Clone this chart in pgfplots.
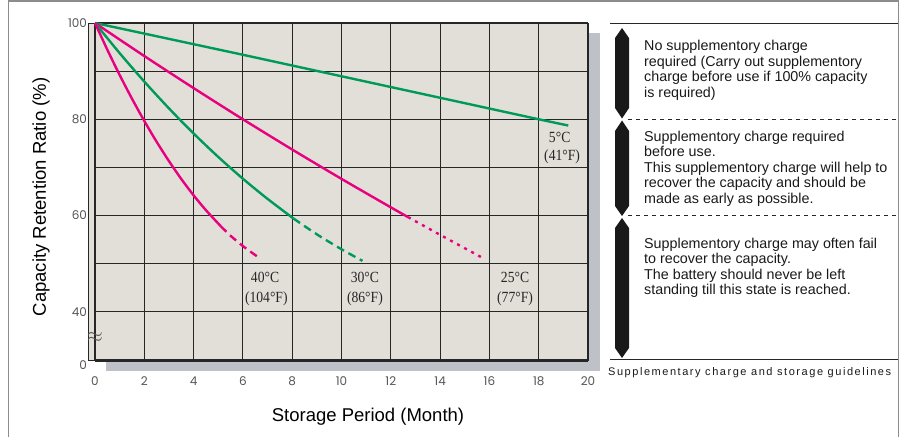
\documentclass[border=0pt]{standalone}
\usepackage{pgfplots}
\pgfplotsset{compat=1.18}
\usepackage{fontspec}
\setmainfont{Liberation Sans}
\newfontfamily\tickfont{Poppins}
\newfontfamily\labfont{Liberation Serif}
\newfontfamily\capfont{Liberation Sans}[LetterSpace=14]
\usetikzlibrary{backgrounds}

\definecolor{gridc}{RGB}{38,38,38}
\definecolor{plotbg}{RGB}{226,223,217}
\definecolor{shadowc}{RGB}{190,194,200}
\definecolor{tickgray}{RGB}{85,85,85}
\definecolor{framec}{RGB}{140,140,140}
\definecolor{cgreen}{RGB}{0,154,88}
\definecolor{cmag}{RGB}{232,0,125}

\begin{document}
\begin{tikzpicture}
\begin{scope}[x=1bp,y=-1bp]
  \path[use as bounding box] (0,0) rectangle (905,438);
\end{scope}

\begin{axis}[
    at={(88bp,-360bp)}, anchor=south west,
    width=500bp, height=337bp, scale only axis,
    xmin=-0.284, xmax=20, ymin=30, ymax=100,
    clip=false,
    axis background/.style={fill=plotbg},
    axis line style={draw=gridc, line width=0.8bp},
    major tick length=0pt,
    xtick={0,2,...,20},
    ytick={40,60,80,100},
    extra y ticks={30},
    extra y tick labels={0},
    extra y tick style={yticklabel style={yshift=-5bp}},
    /pgf/number format/assume math mode=true,
    ticklabel style={font=\tickfont\fontsize{12bp}{12bp}\selectfont, text=tickgray},
    xticklabel style={anchor=center, yshift=-21bp},
    yticklabel style={anchor=east, xshift=2.5bp},
  ]
  % grid
  \pgfplotsinvokeforeach{2,4,6,8,10,12,14,16,18}{
    \draw[gridc, line width=1.1bp] (axis cs:#1,30) -- (axis cs:#1,100);
  }
  \pgfplotsinvokeforeach{40,50,60,70,80,90}{
    \draw[gridc, line width=1.1bp] (axis cs:0,#1) -- (axis cs:20,#1);
  }
  \draw[gridc, line width=1.6bp] (axis cs:0,100) -- (axis cs:20,100);
  \draw[gridc, line width=2.4bp] (axis cs:0,30) -- (axis cs:0,100);
  \draw[gridc, line width=2.2bp] (axis cs:20,30) -- (axis cs:20,100);
  \draw[gridc, line width=3bp] (axis cs:0,30) -- (axis cs:20,30);

  % 5 C
  \addplot[cgreen, line width=2.4bp] coordinates {(0,100) (6,93.4) (12,86.7) (18,80) (19.2,78.7)};
  % 25 C
  \addplot[cmag, line width=2.4bp, smooth] coordinates {(0,100) (2,93.14) (4,86.48) (6,80) (8,73.72) (10,67.62) (12,61.71) (12.7,59.68)};
  \addplot[cmag, line width=2.4bp, dash pattern=on 3bp off 5bp, smooth] coordinates {(12.7,59.68) (14,56.0) (15.8,51.0)};
  % 30 C
  \addplot[cgreen, line width=2.4bp, smooth] coordinates {(0,100) (1,93.74) (2,87.83) (3,82.27) (4,77.05) (5,72.18) (6,67.65) (7,63.47) (8.05,59.4)};
  \addplot[cgreen, line width=2.4bp, dash pattern=on 8bp off 5bp, smooth] coordinates {(8.05,59.4) (9,56.1) (10,53.0) (10.85,50.6)};
  % 40 C
  \addplot[cmag, line width=2.4bp, smooth] coordinates {(0,100) (0.5,94.45) (1,89.2) (1.5,84.28) (2,79.65) (2.5,75.33) (3,71.32) (3.5,67.6) (4,64.21) (4.5,61.12) (5.1,57.8)};
  \addplot[cmag, line width=2.4bp, dash pattern=on 8bp off 5bp, smooth] coordinates {(5.1,57.8) (5.5,55.8) (6,53.67) (6.5,51.8) (6.7,51.1)};

  % curve labels
  \tikzset{clab/.style={font=\labfont\fontsize{15.5bp}{15.5bp}\selectfont, text=black!85, inner sep=0pt, xscale=0.88}}
  \node[clab] at (axis cs:6.9,47.2) {40°C};
  \node[clab] at (axis cs:6.95,42.7) {(104°F)};
  \node[clab] at (axis cs:10.95,47.2) {30°C};
  \node[clab] at (axis cs:10.95,42.7) {(86°F)};
  \node[clab] at (axis cs:17.04,47.2) {25°C};
  \node[clab] at (axis cs:17.04,42.7) {(77°F)};
  \node[clab] at (axis cs:18.85,76.3) {5°C};
  \node[clab] at (axis cs:18.95,72.2) {(41°F)};
  \node[text=tickgray, inner sep=0pt, font=\fontsize{20bp}{20bp}\selectfont] at (axis cs:0,34.6) {$\approx$};
\end{axis}

\begin{scope}[on background layer, x=1bp, y=-1bp]
  \fill[shadowc] (106,33) rectangle (600,371);
\end{scope}

\begin{scope}[x=1bp,y=-1bp]
  % outer frame
  \draw[framec, line width=1.5bp] (8.3,437) -- (8.3,1) -- (898.3,1) -- (898.3,437);
  % axis titles
  \node[rotate=90, font=\fontsize{18.5bp}{18.5bp}\selectfont] at (41,197) {Capacity Retention Ratio (\%)};
  \node[font=\fontsize{18.5bp}{18.5bp}\selectfont] at (368,417) {Storage Period (Month)};
  % right panel
  \draw[black!85, line width=1bp] (610,24) -- (898,24);
  \draw[black!85, line width=1bp] (610,360) -- (898,360);
  \draw[black!85, line width=1bp, dash pattern=on 4bp off 4bp] (628,120) -- (898,120);
  \draw[black!85, line width=1bp, dash pattern=on 4bp off 4bp] (628,216) -- (898,216);
  \fill[black!90] (622,28) -- (629,38) -- (629,108) -- (622,118.5) -- (615,108) -- (615,38) -- cycle;
  \fill[black!90] (622,120.5) -- (629,131) -- (629,206) -- (622,216) -- (615,206) -- (615,131) -- cycle;
  \fill[black!90] (622,218) -- (629,228) -- (629,348) -- (622,358) -- (615,348) -- (615,228) -- cycle;
  \tikzset{ptext/.style={anchor=base west, inner sep=0pt, font=\fontsize{14.3bp}{15.5bp}\selectfont, text=black!90}}
  \node[ptext] at (644,51) {No supplementory charge};
  \node[ptext] at (644,66.5) {required (Carry out supplementory};
  \node[ptext] at (644,82) {charge before use if 100\% capacity};
  \node[ptext] at (644,97.5) {is required)};
  \node[ptext] at (644,141.5) {Supplementory charge required};
  \node[ptext] at (644,157) {before use.};
  \node[ptext] at (644,172.5) {This supplementory charge will help to};
  \node[ptext] at (644,188) {recover the capacity and should be};
  \node[ptext] at (644,203.5) {made as early as possible.};
  \node[ptext] at (644,248.5) {Supplementory charge may often fail};
  \node[ptext] at (644,264) {to recover the capacity.};
  \node[ptext] at (644,279.5) {The battery should never be left};
  \node[ptext] at (644,295) {standing till this state is reached.};
  \node[anchor=base west, inner sep=0pt, font=\capfont\fontsize{11bp}{11bp}\selectfont, text=black!90] at (608,375.5) {Supplementary charge and storage guidelines};
\end{scope}
\end{tikzpicture}
\end{document}
